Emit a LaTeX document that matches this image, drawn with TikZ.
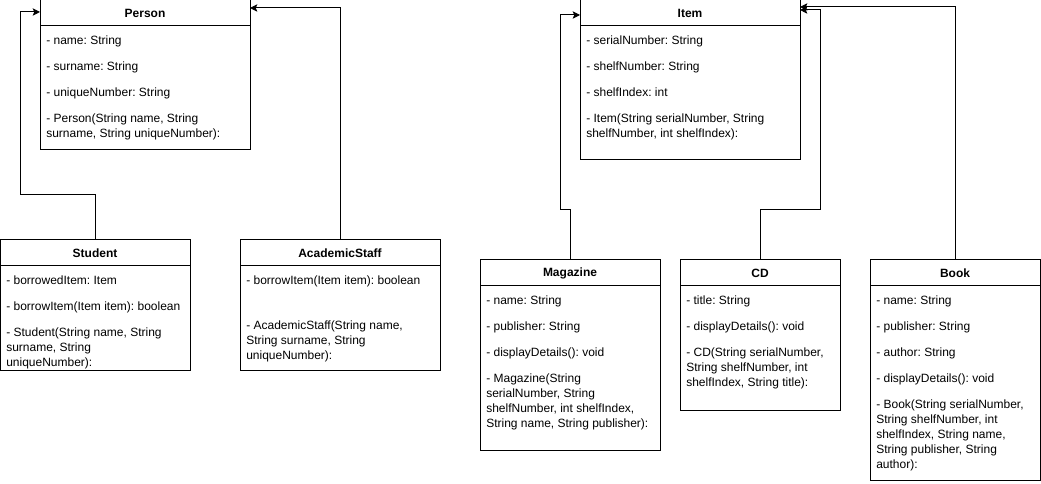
\documentclass[tikz,border=0pt]{standalone}
\usepackage{fontspec}
\setmainfont{Liberation Sans}
\usetikzlibrary{calc,arrows.meta}
\frenchspacing

\tikzset{
  cls/.style={draw, line width=0.75pt, anchor=north west, inner sep=0pt, outer sep=0pt},
  sepline/.style={line width=0.75pt},
  ctitle/.style={font=\fontsize{9pt}{11pt}\selectfont\bfseries, inner sep=0pt},
  member/.style={anchor=base west, inner sep=0pt, font=\fontsize{9pt}{11pt}\selectfont},
  conn/.style={line width=0.75pt, -{Stealth[length=5.5pt,width=5.5pt,inset=1.2pt]}}
}

% class box: name, left, top, width, height, title
\newcommand\classbox[6]{%
  \node[cls, minimum width={#4*0.75pt}, minimum height={#5*0.75pt}] (#1) at (#2,#3) {};
  \draw[sepline] ($(#1.north west)+(0,26)$) -- ($(#1.north east)+(0,26)$);
  \node[ctitle] (#1-t) at ($(#1.north)+(0,13)$) {#6};
}

\begin{document}
\begin{tikzpicture}[x=0.75pt,y=-0.75pt]
\useasboundingbox (0,0) rectangle (1041,484);

% Person hierarchy
\classbox{person}{40}{0}{210}{150}{Person}
\node[member] (p1) at (46,44.5) {- name: String};
\node[member] (p2) at (46,70.5) {- surname: String};
\node[member] (p3) at (46,96.5) {- uniqueNumber: String};
\node[member] (p4) at (46,122.5) {- Person(String name, String};
\node[member] (p5) at (46,137.5) {surname, String uniqueNumber):};

\classbox{student}{0}{240}{190}{130}{Student}
\node[member] (s1) at (6,284.5) {- borrowedItem: Item};
\node[member] (s2) at (6,310.5) {- borrowItem(Item item): boolean};
\node[member] (s3) at (6,336.5) {- Student(String name, String};
\node[member] (s4) at (6,351.5) {surname, String};
\node[member] (s5) at (6,366.5) {uniqueNumber):};

\classbox{staff}{240}{240}{200}{130}{AcademicStaff}
\node[member] (a1) at (246,284.5) {- borrowItem(Item item): boolean};
\node[member] (a2) at (246,329.5) {- AcademicStaff(String name,};
\node[member] (a3) at (246,344.5) {String surname, String};
\node[member] (a4) at (246,359.5) {uniqueNumber):};

% Item hierarchy
\classbox{item}{580}{0}{220}{160}{Item}
\node[member] (i1) at (586,44.5) {- serialNumber: String};
\node[member] (i2) at (586,70.5) {- shelfNumber: String};
\node[member] (i3) at (586,96.5) {- shelfIndex: int};
\node[member] (i4) at (586,122.5) {- Item(String serialNumber, String};
\node[member] (i5) at (586,137.5) {shelfNumber, int shelfIndex):};

\classbox{mag}{480}{260}{180}{190}{Magazine}
\node[member] (m1) at (486,304.5) {- name: String};
\node[member] (m2) at (486,330.5) {- publisher: String};
\node[member] (m3) at (486,356.5) {- displayDetails(): void};
\node[member] (m4) at (486,382.5) {- Magazine(String};
\node[member] (m5) at (486,397.5) {serialNumber, String};
\node[member] (m6) at (486,412.5) {shelfNumber, int shelfIndex,};
\node[member] (m7) at (486,427.5) {String name, String publisher):};

\classbox{cd}{680}{260}{160}{150}{CD}
\node[member] (c1) at (686,304.5) {- title: String};
\node[member] (c2) at (686,330.5) {- displayDetails(): void};
\node[member] (c3) at (686,356.5) {- CD(String serialNumber,};
\node[member] (c4) at (686,371.5) {String shelfNumber, int};
\node[member] (c5) at (686,386.5) {shelfIndex, String title):};

\classbox{book}{870}{260}{170}{220}{Book}
\node[member] (b1) at (876,304.5) {- name: String};
\node[member] (b2) at (876,330.5) {- publisher: String};
\node[member] (b3) at (876,356.5) {- author: String};
\node[member] (b4) at (876,382.5) {- displayDetails(): void};
\node[member] (b5) at (876,408.5) {- Book(String serialNumber,};
\node[member] (b6) at (876,423.5) {String shelfNumber, int};
\node[member] (b7) at (876,438.5) {shelfIndex, String name,};
\node[member] (b8) at (876,453.5) {String publisher, String};
\node[member] (b9) at (876,468.5) {author):};

% inheritance connectors
\draw[conn] (student.north) |- (20,195) |- ($(person.north west)+(0,12)$);
\draw[conn] (staff.north) |- ($(person.north east)+(0,8)$);
\draw[conn] (mag.north) |- (560,210) |- ($(item.north west)+(0,15)$);
\draw[conn] (cd.north) |- (820,210) |- ($(item.north east)+(0,10)$);
\draw[conn] (book.north) |- ($(item.north east)+(0,7)$);
\end{tikzpicture}
\end{document}
